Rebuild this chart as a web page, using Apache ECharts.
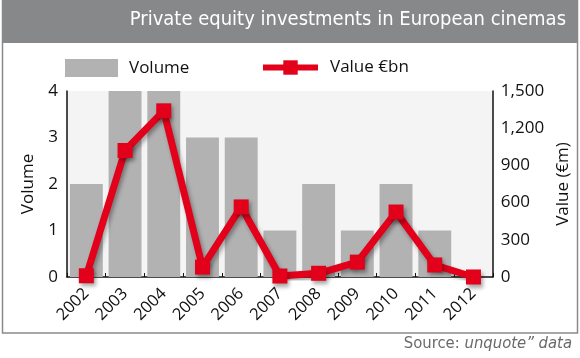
<!DOCTYPE html>
<html><head><meta charset="utf-8">
<script src="https://cdn.jsdelivr.net/npm/echarts@6/dist/echarts.min.js"></script>
<style>html,body{margin:0;padding:0;background:#fff}#c{width:580px;height:358px}</style>
</head><body><div id="c"></div>
<script>
const years = ['2002','2003','2004','2005','2006','2007','2008','2009','2010','2011','2012'];
const volume = [2,4,4,3,3,1,2,1,2,1,0];
const valueEm = [10,1020,1340,80,565,8,30,120,524,97,0];
const volTicks = [0,1,2,3,4];
const valTicks = [0,300,600,900,1200,1500];
const titleText = 'Private equity investments in European cinemas';

const chart = echarts.init(document.getElementById('c'), null, {renderer:'canvas'});
const F = '"Open Sans", "Noto Sans", sans-serif';
const FC = '"Liberation Sans Narrow", "DejaVu Sans Condensed", sans-serif';
const red = '#e2001a';
chart.setOption({
  animation: false,
  backgroundColor: '#fff',
  graphic: [
    {type:'rect', shape:{x:2.5,y:0,width:575,height:333}, style:{fill:'none', stroke:'#8a8a8a', lineWidth:1.5}, z:0},
    {type:'rect', shape:{x:2,y:0,width:576,height:43}, style:{fill:'#878889'}, z:0},
    {type:'text', right:14, top:10, style:{text:titleText, fill:'#fff', font:'20px ' + FC}, z:1},
    {type:'text', right:8, top:335, style:{text:'{a|Source: }{b|unquote\u201d data}', rich:{a:{fill:'#6a6a6a', font:'16.5px ' + FC}, b:{fill:'#6a6a6a', font:'italic 16.5px ' + FC}}}, z:1}
  ],
  legend: [
    {data:['Volume'], left:65, top:59, padding:0, itemWidth:53, itemHeight:18, icon:'rect', textStyle:{fontFamily:F, fontSize:17, color:'#111', padding:[0,0,0,6]}},
    {data:['Value €bn'], left:260, top:59, padding:0, itemWidth:55, itemHeight:18, lineStyle:{width:6}, textStyle:{fontFamily:F, fontSize:17, color:'#111', padding:[0,0,0,7]}}
  ],
  grid: {left:67, right:87, top:91, bottom:81, show:true, backgroundColor:'#f4f4f4', borderWidth:0},
  xAxis: {
    type:'category', data:years,
    axisLine:{lineStyle:{color:'#111', width:1.5}},
    axisTick:{show:true, inside:true, length:4, lineStyle:{color:'#111'}},
    axisLabel:{rotate:45, fontFamily:F, fontSize:16.5, color:'#111', margin:14}
  },
  yAxis: [
    {type:'value', min:0, max:4, interval:1, name:'Volume', nameLocation:'middle', nameGap:30,
     nameTextStyle:{fontFamily:F, fontSize:17, color:'#111'},
     axisLine:{show:true, lineStyle:{color:'#111', width:1.5}}, axisTick:{show:false}, splitLine:{show:false},
     axisLabel:{fontFamily:F, fontSize:17, color:'#111', margin:9}},
    {type:'value', min:0, max:1500, interval:300, name:'Value (€m)', nameLocation:'middle', nameGap:50,
     nameTextStyle:{fontFamily:F, fontSize:17, color:'#111'},
     axisLine:{show:true, lineStyle:{color:'#111', width:1.5}}, axisTick:{show:false}, splitLine:{show:false},
     axisLabel:{fontFamily:F, fontSize:17, color:'#111', margin:8, formatter:v=>v.toLocaleString('en-US')}}
  ],
  series: [
    {name:'Volume', type:'bar', data:volume, yAxisIndex:0, barCategoryGap:'15%', itemStyle:{color:'#b2b2b2'}},
    {name:'Value €bn', type:'line', data:valueEm, yAxisIndex:1, symbol:'rect', symbolSize:15,
     lineStyle:{color:red, width:7, shadowColor:'rgba(0,0,0,0.35)', shadowBlur:4, shadowOffsetX:2, shadowOffsetY:3},
     itemStyle:{color:red, shadowColor:'rgba(0,0,0,0.35)', shadowBlur:4, shadowOffsetX:2, shadowOffsetY:3}}
  ]
});
</script></body></html>
